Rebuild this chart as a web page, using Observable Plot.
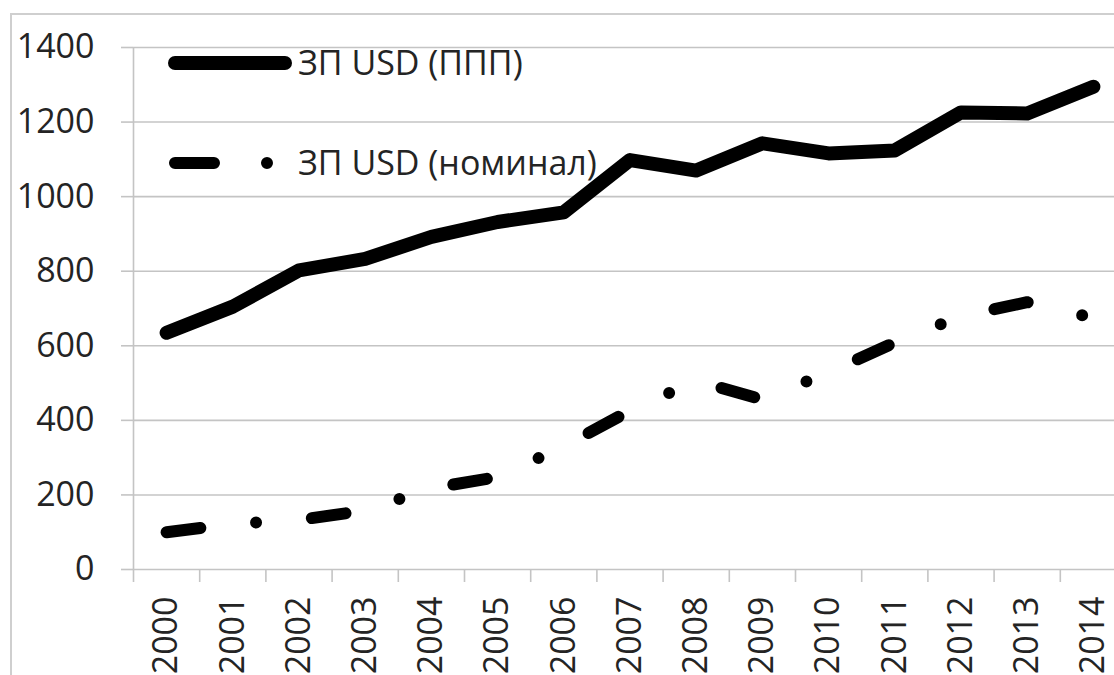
<!DOCTYPE html>
<html>
<head>
<meta charset="utf-8">
<script src="https://cdn.jsdelivr.net/npm/d3@7"></script>
<script src="https://cdn.jsdelivr.net/npm/@observablehq/plot@0.6"></script>
<style>
  html, body { margin: 0; padding: 0; background: #fff; overflow: hidden; }
  #wrap { position: relative; width: 1114px; height: 675px; overflow: hidden; font-family: "Open Sans", sans-serif; }
  #border { position: absolute; left: 10px; top: 13px; width: 1300px; height: 900px; border-left: 2px solid #cfcfcf; border-top: 2px solid #cfcfcf; }
  #legend { position: absolute; left: 0; top: 0; pointer-events: none; }
</style>
</head>
<body>
<div id="wrap"><div id="border"></div><div id="chart"></div></div>
<script>
const years = [2000, 2001, 2002, 2003, 2004, 2005, 2006, 2007, 2008, 2009, 2010, 2011, 2012, 2013, 2014];
const pppValues = [635, 705, 802, 833, 892, 932, 958, 1098, 1070, 1143, 1116, 1124, 1226, 1223, 1295];
const nominalValues = [100, 122, 133, 158, 218, 248, 330, 426, 506, 456, 528, 609, 679, 717, 675];
const yTicks = [0, 200, 400, 600, 800, 1000, 1200, 1400];
const seriesNames = ["ЗП USD (ППП)", "ЗП USD (номинал)"];

const ppp = years.map((year, i) => ({year, value: pppValues[i]}));
const nominal = years.map((year, i) => ({year, value: nominalValues[i]}));
const boundaries = years.map(y => y - 0.5).concat([years[years.length - 1] + 0.5]);

const gridColor = "#c4c4c4";
const textColor = "#242424";

const chart = Plot.plot({
  width: 1114,
  height: 675,
  marginLeft: 133,
  marginRight: 0,
  marginTop: 47,
  marginBottom: 106,
  style: {fontFamily: "Open Sans", fontSize: "34px", background: "transparent", color: textColor},
  x: {type: "linear", domain: [years[0] - 0.5, years[years.length - 1] + 0.5], range: [133, 1126]},
  y: {domain: [0, 1400]},
  marks: [
    Plot.gridY(yTicks, {stroke: gridColor, strokeOpacity: 1, strokeWidth: 1.6}),
    Plot.ruleX([boundaries[0]], {y1: 0, y2: 1400, stroke: gridColor, strokeWidth: 1.6}),
    Plot.axisY({ticks: yTicks, tickSize: 12, tickPadding: 27, tickFormat: d => String(d), stroke: gridColor, strokeWidth: 1.6, fill: textColor, fontSize: 34, label: null}),
    Plot.axisX({ticks: boundaries, tickSize: 13, tickFormat: () => "", stroke: gridColor, strokeWidth: 1.6, label: null}),
    Plot.axisX({ticks: years, tickSize: 0, tickPadding: 27, tickRotate: -90, tickFormat: d => String(d), fill: textColor, fontSize: 34, label: null}),
    Plot.line(nominal, {x: "year", y: "value", stroke: "#000", strokeWidth: 12, strokeLinecap: "round", strokeLinejoin: "round", strokeDasharray: "34,56,0,56"}),
    Plot.line(ppp, {x: "year", y: "value", stroke: "#000", strokeWidth: 14, strokeLinecap: "round", strokeLinejoin: "round"})
  ]
});
document.getElementById("chart").appendChild(chart);

// Legend overlay
const ns = "http://www.w3.org/2000/svg";
const leg = document.createElementNS(ns, "svg");
leg.setAttribute("id", "legend");
leg.setAttribute("width", 1114);
leg.setAttribute("height", 675);
function el(tag, attrs, text) {
  const e = document.createElementNS(ns, tag);
  for (const k in attrs) e.setAttribute(k, attrs[k]);
  if (text) e.textContent = text;
  leg.appendChild(e);
  return e;
}
el("line", {x1: 175, y1: 63, x2: 285, y2: 63, stroke: "#000", "stroke-width": 14, "stroke-linecap": "round"});
el("text", {x: 298, y: 75, fill: textColor, "font-family": "Open Sans", "font-size": 34}, seriesNames[0]);
el("line", {x1: 175, y1: 163, x2: 285, y2: 163, stroke: "#000", "stroke-width": 12, "stroke-linecap": "round", "stroke-dasharray": "39,53,0,200"});
el("text", {x: 298, y: 175, fill: textColor, "font-family": "Open Sans", "font-size": 34}, seriesNames[1]);
document.getElementById("wrap").appendChild(leg);
</script>
</body>
</html>
